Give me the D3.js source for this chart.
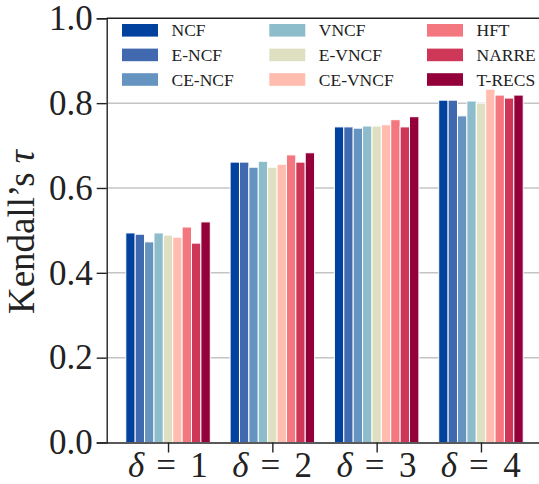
<!DOCTYPE html>
<html><head><meta charset="utf-8">
<script src="https://cdn.jsdelivr.net/npm/d3@7"></script>
<style>
html,body{margin:0;padding:0;background:#fff;}
svg text{font-family:'Liberation Serif','Times New Roman',serif;fill:#222;}
</style></head>
<body><svg id="chart" width="539" height="484"></svg>
<script>
const groups = ["1","2","3","4"];
const models = ["NCF","E-NCF","CE-NCF","VNCF","E-VNCF","CE-VNCF","HFT","NARRE","T-RECS"];
const colors = ["#00429d","#4169b0","#6694c1","#8dbdcb","#dfe0c2","#ffbcaf","#f4777f","#cf3759","#93003a"];
const NCF     = [0.494,0.661,0.744,0.807];
const E_NCF   = [0.491,0.661,0.744,0.807];
const CE_NCF  = [0.473,0.649,0.741,0.770];
const VNCF    = [0.494,0.663,0.746,0.805];
const E_VNCF  = [0.489,0.649,0.746,0.800];
const CE_VNCF = [0.484,0.656,0.749,0.833];
const HFT     = [0.508,0.678,0.761,0.819];
const NARRE   = [0.470,0.661,0.744,0.812];
const T_RECS  = [0.520,0.683,0.768,0.819];
const series = [NCF,E_NCF,CE_NCF,VNCF,E_VNCF,CE_VNCF,HFT,NARRE,T_RECS];
const yTicks = [0.0,0.2,0.4,0.6,0.8,1.0];
const yLabel = "Kendall\u2019s";

const svg = d3.select("#chart");
const x = d3.scaleLinear().domain([-0.588, 3.588]).range([106.7, 542.3]);
const y = d3.scaleLinear().domain([0,1]).range([442.5, 18.3]);
const bw = 0.09;

svg.append("g").selectAll("line").data(yTicks.filter(d=>d>0&&d<1)).join("line")
  .attr("x1", x(-0.588)).attr("x2", 539)
  .attr("y1", d=>y(d)).attr("y2", d=>y(d))
  .attr("stroke","#c4c4c4").attr("stroke-width",1.5);

series.forEach((vals,j)=>{
  svg.append("g").selectAll("rect").data(vals).join("rect")
    .attr("x",(d,i)=>x(i+(j-4)*bw - bw/2))
    .attr("width", x(bw)-x(0))
    .attr("y", d=>y(d))
    .attr("height", d=>y(0)-y(d))
    .attr("fill", colors[j])
    .attr("stroke","#fff").attr("stroke-width",1);
});

const yAxis = d3.axisLeft(y).tickValues(yTicks).tickFormat(d3.format(".1f")).tickSize(10).tickPadding(4);
const gy = svg.append("g").attr("transform",`translate(${x(-0.588)},0)`).call(yAxis).attr("font-family",null);
gy.select(".domain").attr("stroke","#222").attr("stroke-width",1.4);
gy.selectAll(".tick line").attr("stroke","#222").attr("stroke-width",1.4);
gy.selectAll(".tick text").attr("font-size",35).attr("fill","#222");

const xAxis = d3.axisBottom(x).tickValues([0,1,2,3]).tickFormat("").tickSize(10).tickSizeOuter(0);
const gx = svg.append("g").attr("transform",`translate(0,${y(0)})`).call(xAxis);
gx.select(".domain").attr("stroke","#222").attr("stroke-width",1.4);
gx.selectAll(".tick line").attr("stroke","#222").attr("stroke-width",1.4);
groups.forEach((g,i)=>{
  const cx = x(i);
  svg.append("text").attr("x",cx-32).attr("y",477).attr("text-anchor","middle").attr("font-size",35)
    .attr("font-style","italic").text("\u03b4");
  svg.append("text").attr("x",cx-2).attr("y",477).attr("text-anchor","middle").attr("font-size",35).text("=");
  svg.append("text").attr("x",cx+31).attr("y",477).attr("text-anchor","middle").attr("font-size",35).text(g);
});

svg.append("line").attr("x1",x(-0.588)).attr("x2",539).attr("y1",y(1)).attr("y2",y(1))
  .attr("stroke","#222").attr("stroke-width",1.4);

const yl = svg.append("text").attr("transform","translate(34,232) rotate(-90)")
  .attr("text-anchor","middle").attr("font-size",37);
yl.append("tspan").text(yLabel);
yl.append("tspan").attr("font-style","italic").attr("dx",9).text("\u03c4");

const colX = [122, 269.3, 427];
models.forEach((m,j)=>{
  const c = Math.floor(j/3), r = j%3;
  const cy = 30.3 + r*24.6;
  svg.append("rect").attr("x",colX[c]).attr("y",cy-6.3).attr("width",36).attr("height",12.6).attr("fill",colors[j]);
  svg.append("text").attr("x",colX[c]+49.5).attr("y",cy+6).attr("font-size",17.5).text(m);
});
</script></body></html>
